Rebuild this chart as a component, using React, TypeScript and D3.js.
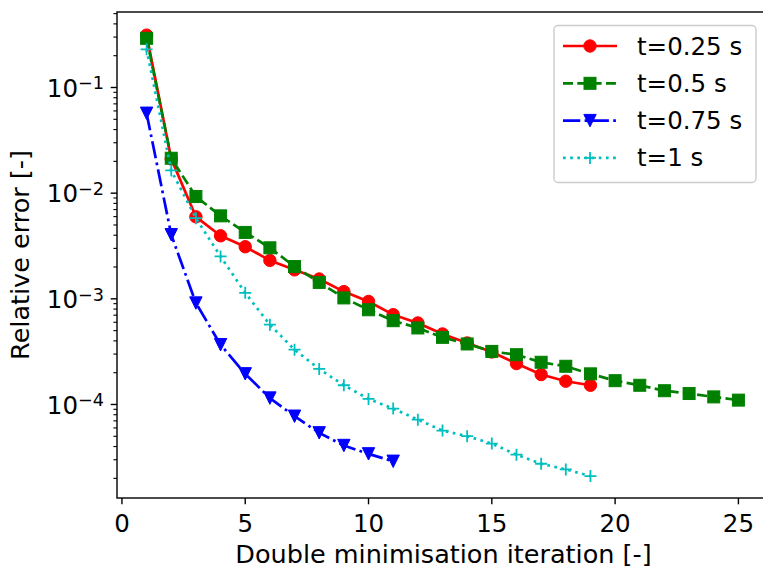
import React, { useEffect, useRef } from "react";
import * as d3 from "d3";

const iterRed = d3.range(1, 20);
const valRed = [0.313, 0.0211, 0.00597, 0.00395, 0.00311, 0.00231, 0.00188, 0.00154, 0.00117, 0.000944, 0.000708, 0.000591, 0.000465, 0.000382, 0.000314, 0.000244, 0.000192, 0.000166, 0.000152];

const iterGreen = d3.range(1, 26);
const valGreen = [0.292, 0.0214, 0.00929, 0.0061, 0.00425, 0.00304, 0.00202, 0.00143, 0.00102, 0.000788, 0.000621, 0.00053, 0.000432, 0.000374, 0.000318, 0.000296, 0.000251, 0.00023, 0.000195, 0.000168, 0.000152, 0.000135, 0.000127, 0.000118, 0.00011];

const iterBlue = d3.range(1, 12);
const valBlue = [0.057, 0.00404, 0.000912, 0.000368, 0.000195, 0.000115, 7.74e-5, 5.39e-5, 4.09e-5, 3.41e-5, 2.9e-5];

const iterCyan = d3.range(1, 20);
const valCyan = [0.23, 0.0164, 0.0058, 0.00252, 0.00114, 0.000569, 0.00033, 0.000217, 0.000152, 0.000113, 9.14e-5, 7.19e-5, 5.66e-5, 5.01e-5, 4.27e-5, 3.35e-5, 2.75e-5, 2.43e-5, 2.1e-5];

const seriesLabels = ["t=0.25 s", "t=0.5 s", "t=0.75 s", "t=1 s"];
const xTicks = [0, 5, 10, 15, 20, 25];
const yTickExps = [-1, -2, -3, -4];

const W = 763;
const H = 567;
const FONT = "DejaVu Sans, sans-serif";
const FS = 24.5;
const FSL = 25.5;

export default function App() {
  const ref = useRef<SVGSVGElement>(null);

  useEffect(() => {
    document.body.style.margin = "0";
    const svg = d3.select(ref.current!);
    svg.selectAll("*").remove();

    const left = 117, right = 768, top = 12, bottom = 498;
    const x = d3.scaleLinear().domain([-0.2, 26.2]).range([left, right]);
    const y = d3.scaleLog().domain([Math.pow(10, -4.885), Math.pow(10, -0.2855)]).range([bottom, top]);

    svg.append("rect").attr("width", W).attr("height", H).attr("fill", "white");

    svg.append("defs").append("clipPath").attr("id", "clip")
      .append("rect").attr("x", left).attr("y", top).attr("width", right - left).attr("height", bottom - top);

    const lw = 2.7;
    const series = [
      { xs: iterRed, ys: valRed, color: "#ff0000", dash: "none", marker: "circle" },
      { xs: iterGreen, ys: valGreen, color: "#008000", dash: `${3.7 * lw},${1.6 * lw}`, marker: "square" },
      { xs: iterBlue, ys: valBlue, color: "#0000ff", dash: `${6.4 * lw},${1.6 * lw},${1 * lw},${1.6 * lw}`, marker: "tri" },
      { xs: iterCyan, ys: valCyan, color: "#00bfbf", dash: `${1 * lw},${1.65 * lw}`, marker: "plus" },
    ];

    const drawMarker = (g: any, type: string, cx: number, cy: number, color: string) => {
      if (type === "circle") {
        g.append("circle").attr("cx", cx).attr("cy", cy).attr("r", 6.2).attr("fill", color).attr("stroke", color).attr("stroke-width", 1);
      } else if (type === "square") {
        g.append("rect").attr("x", cx - 6).attr("y", cy - 6).attr("width", 12).attr("height", 12).attr("fill", color).attr("stroke", color).attr("stroke-width", 1);
      } else if (type === "tri") {
        const s = 6.2;
        g.append("path").attr("d", `M${cx - s},${cy - s}L${cx + s},${cy - s}L${cx},${cy + s}Z`).attr("fill", color).attr("stroke", color).attr("stroke-width", 1);
      } else {
        const s = 6;
        g.append("path").attr("d", `M${cx - s},${cy}L${cx + s},${cy}M${cx},${cy - s}L${cx},${cy + s}`).attr("fill", "none").attr("stroke", color).attr("stroke-width", 1.8);
      }
    };

    const plot = svg.append("g").attr("clip-path", "url(#clip)");
    series.forEach((s) => {
      const pts: [number, number][] = s.xs.map((v, i) => [x(v), y(s.ys[i])]);
      plot.append("path").attr("d", d3.line()(pts)!).attr("fill", "none").attr("stroke", s.color)
        .attr("stroke-width", lw).attr("stroke-dasharray", s.dash).attr("stroke-linejoin", "round");
      pts.forEach(([px, py]) => drawMarker(plot, s.marker, px, py, s.color));
    });

    // spines
    const ax = svg.append("g");
    ax.append("rect").attr("x", left).attr("y", top).attr("width", right - left).attr("height", bottom - top)
      .attr("fill", "none").attr("stroke", "black").attr("stroke-width", 1.4);

    // x ticks
    xTicks.forEach((t) => {
      const px = x(t);
      ax.append("line").attr("x1", px).attr("x2", px).attr("y1", bottom).attr("y2", bottom + 6.3).attr("stroke", "black").attr("stroke-width", 1.4);
      ax.append("text").attr("x", px).attr("y", 531.5).attr("text-anchor", "middle")
        .attr("font-family", FONT).attr("font-size", FS).text(String(t));
    });

    // y minor ticks
    for (let e = -5; e <= 0; e++) {
      for (let m = 2; m <= 9; m++) {
        const v = m * Math.pow(10, e);
        const [d0, d1] = y.domain();
        if (v < d0 || v > d1) continue;
        const py = y(v);
        ax.append("line").attr("x1", left - 3.6).attr("x2", left).attr("y1", py).attr("y2", py).attr("stroke", "black").attr("stroke-width", 1.1);
      }
    }
    // y major ticks
    yTickExps.forEach((e) => {
      const py = y(Math.pow(10, e));
      ax.append("line").attr("x1", left - 6.3).attr("x2", left).attr("y1", py).attr("y2", py).attr("stroke", "black").attr("stroke-width", 1.4);
      const t = ax.append("text").attr("x", left - 13).attr("y", py + 9.3).attr("text-anchor", "end")
        .attr("font-family", FONT).attr("font-size", FS);
      t.append("tspan").text("10");
      t.append("tspan").attr("font-size", FS * 0.72).attr("dy", -7.5).text("\u2212" + String(-e));
    });

    // axis labels
    svg.append("text").attr("x", (left + right) / 2 + 1).attr("y", 562.5).attr("text-anchor", "middle")
      .attr("font-family", FONT).attr("font-size", FSL).text("Double minimisation iteration [-]");
    svg.append("text").attr("transform", `translate(29,${(top + bottom) / 2}) rotate(-90)`).attr("text-anchor", "middle")
      .attr("font-family", FONT).attr("font-size", FSL).text("Relative error [-]");

    // legend
    const lg = svg.append("g");
    lg.append("rect").attr("x", 554).attr("y", 25.5).attr("width", 202).attr("height", 157).attr("rx", 4)
      .attr("fill", "white").attr("fill-opacity", 0.8).attr("stroke", "#cccccc").attr("stroke-width", 1.4);
    series.forEach((s, i) => {
      const cy = 46 + i * 37.3;
      lg.append("line").attr("x1", 563).attr("x2", 617).attr("y1", cy).attr("y2", cy).attr("stroke", s.color)
        .attr("stroke-width", lw).attr("stroke-dasharray", s.dash);
      drawMarker(lg, s.marker, 590, cy, s.color);
      lg.append("text").attr("x", 637).attr("y", cy + 8.5).attr("font-family", FONT).attr("font-size", FS).text(seriesLabels[i]);
    });
  }, []);

  return <svg ref={ref} width={W} height={H} style={{ display: "block" }} />;
}
